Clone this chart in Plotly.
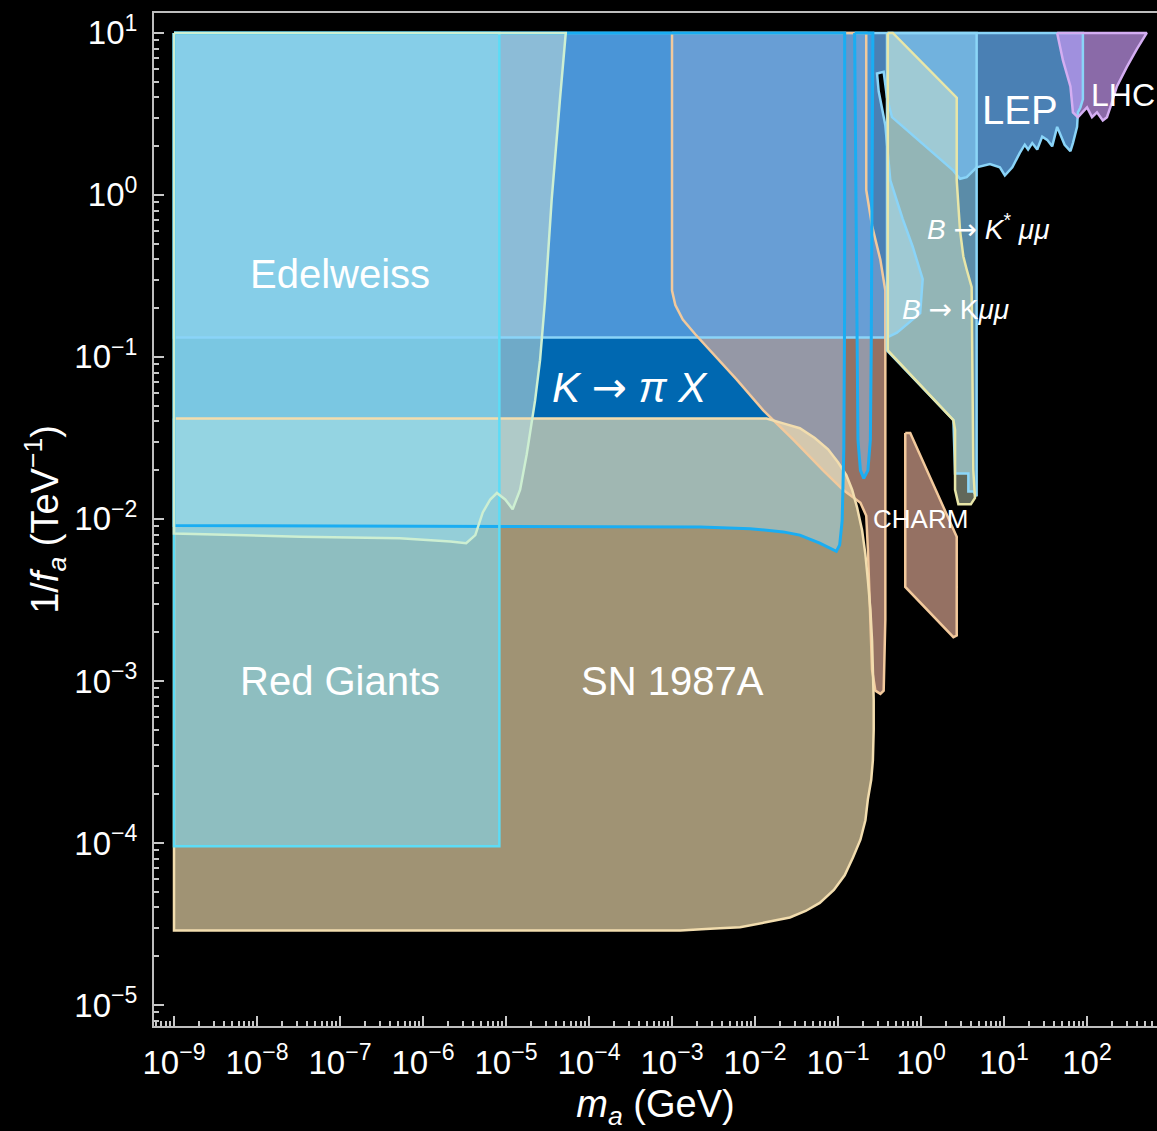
import plotly.graph_objects as go

# ALP exclusion regions in the (m_a, 1/f_a) plane.
# Boundaries are stored as log10(m_a / GeV) and log10(1/f_a / TeV^-1).

sn1987a_log_m = [-9.00, -2.06, -1.86, -1.66, -1.46, -1.28, -1.12, -1.00, -0.90, -0.83,
                 -0.77, -0.71, -0.67, -0.64, -0.61, -0.59, -0.58, -0.57, -0.57, -0.58,
                 -0.60, -0.64, -0.67, -0.73, -0.82, -0.92, -1.05, -1.22, -1.39, -1.58,
                 -1.87, -2.18, -2.54, -2.90, -9.00]
sn1987a_log_g = [-1.38, -1.38, -1.38, -1.41, -1.44, -1.50, -1.57, -1.65, -1.73, -1.82,
                 -1.93, -2.07, -2.22, -2.38, -2.56, -2.75, -2.93, -3.12, -3.30, -3.49,
                 -3.61, -3.73, -3.86, -3.98, -4.09, -4.20, -4.29, -4.37, -4.42, -4.46,
                 -4.49, -4.52, -4.53, -4.54, -4.54]

kpix_log_m = [-9.00, -0.92, -0.92, -0.93, -0.95, -0.98, -1.02, -1.10, -1.22, -1.46,
              -1.66, -2.06, -2.66, -9.00]
kpix_log_g = [1.00, 1.00, -0.65, -1.57, -2.01, -2.16, -2.20, -2.18, -2.15, -2.10,
              -2.08, -2.06, -2.05, -2.04]

kpix_high_log_m = [-0.80, -0.78, -0.77, -0.76, -0.73, -0.69, -0.64, -0.61, -0.60, -0.59, -0.58]
kpix_high_log_g = [1.00, -0.03, -0.96, -1.51, -1.70, -1.75, -1.70, -1.51, -0.96, -0.03, 1.00]

charm_log_m = [-3.00, -3.00, -2.96, -2.87, -2.72, -2.54, -2.22, -1.90, -1.54, -1.18,
               -0.94, -0.73, -0.66, -0.64, -0.61, -0.59, -0.55, -0.49, -0.45, -0.43,
               -0.43, -0.49, -0.59, -0.66, -0.66]
charm_log_g = [1.00, -0.59, -0.68, -0.77, -0.86, -0.96, -1.14, -1.33, -1.51, -1.70,
               -1.82, -1.90, -1.98, -2.19, -2.62, -2.93, -3.06, -3.08, -3.06, -2.62,
               -0.59, -0.40, -0.19, 0.03, 1.00]

charm_b_log_m = [-0.19, -0.13, 0.43, 0.43, 0.39, -0.19]
charm_b_log_g = [-1.47, -1.47, -2.11, -2.72, -2.73, -2.42]

edelweiss_log_m = [-9.00, -4.28, -4.35, -4.45, -4.53, -4.59, -4.65, -4.75, -4.83, -4.92,
                   -5.01, -5.11, -5.19, -5.28, -5.37, -5.48, -5.67, -6.28, -7.48, -9.00]
edelweiss_log_g = [1.00, 1.00, 0.59, -0.03, -0.65, -1.02, -1.27, -1.60, -1.82, -1.94,
                   -1.88, -1.84, -1.88, -1.96, -2.10, -2.15, -2.14, -2.12, -2.11, -2.09]

red_giants_log_m = [-9.00, -5.08, -5.08, -9.00]
red_giants_log_g = [1.00, 1.00, -4.02, -4.02]

lep_log_m = [-9.00, 1.95, 1.95, 1.92, 1.89, 1.88, 1.83, 1.80, 1.73, 1.67, 1.64, 1.58,
             1.52, 1.46, 1.40, 1.34, 1.29, 1.25, 1.19, 1.10, 1.01, 0.95, 0.83, 0.67,
             0.55, 0.47, 0.39, -0.35, -0.41, -0.45, -0.53, -0.51, -0.43, -0.37, -0.22,
             -0.10, 0.02, -0.01, -0.29, -0.41, -9.00]
lep_log_g = [1.00, 1.00, 0.59, 0.54, 0.51, 0.42, 0.32, 0.27, 0.31, 0.38, 0.42, 0.30,
             0.34, 0.36, 0.28, 0.32, 0.28, 0.31, 0.26, 0.17, 0.12, 0.17, 0.19, 0.17,
             0.11, 0.10, 0.15, 0.48, 0.60, 0.76, 0.75, 0.64, 0.43, 0.09, -0.15,
             -0.32, -0.52, -0.73, -0.85, -0.88, -0.88]

b_kmumu_log_m = [-0.41, 0.67, 0.67, 0.63, 0.57, 0.57, 0.41, 0.39, -0.41]
b_kmumu_log_g = [1.00, 1.00, -1.86, -1.83, -1.83, -1.72, -1.72, -1.39, -0.96]

b_kstar_log_m = [-0.40, -0.34, 0.43, 0.43, 0.47, 0.51, 0.55, 0.61, 0.63, 0.65, 0.60,
                 0.45, 0.41, 0.41, 0.39, -0.40]
b_kstar_log_g = [1.00, 1.00, 0.60, 0.09, -0.22, -0.38, -0.46, -0.57, -1.70, -1.87,
                 -1.91, -1.91, -1.82, -1.45, -1.39, -0.96]

lhc_log_m = [1.64, 1.71, 1.80, 1.83, 1.89, 1.94, 2.00, 2.06, 2.12, 2.19, 2.24, 2.28,
             2.36, 2.48, 2.60, 2.72]
lhc_log_g = [1.00, 0.83, 0.67, 0.51, 0.48, 0.51, 0.54, 0.48, 0.51, 0.46, 0.48, 0.54,
             0.67, 0.79, 0.90, 1.00]

x_tick_exponents = list(range(-9, 3))
y_tick_exponents = list(range(-5, 2))


def closed(log_m, log_g):
    xs = [10 ** v for v in log_m]
    ys = [10 ** v for v in log_g]
    return xs + xs[:1], ys + ys[:1]


regions = {
    "kpix": (kpix_log_m, kpix_log_g),
    "kpix_high": (kpix_high_log_m, kpix_high_log_g),
    "charm": (charm_log_m, charm_log_g),
    "charm_b": (charm_b_log_m, charm_b_log_g),
    "sn": (sn1987a_log_m, sn1987a_log_g),
    "lep": (lep_log_m, lep_log_g),
    "edelweiss": (edelweiss_log_m, edelweiss_log_g),
    "rg": (red_giants_log_m, red_giants_log_g),
    "bk": (b_kmumu_log_m, b_kmumu_log_g),
    "bkstar": (b_kstar_log_m, b_kstar_log_g),
    "lhc": (lhc_log_m, lhc_log_g),
}

fill_style = {
    "kpix": "rgba(0,112,190,0.93)",
    "kpix_high": "rgba(0,112,190,0.93)",
    "charm": "rgba(240,182,160,0.62)",
    "charm_b": "rgba(240,182,160,0.62)",
    "sn": "rgba(246,226,178,0.65)",
    "lep": "rgba(92,160,225,0.80)",
    "edelweiss": "rgba(185,215,215,0.60)",
    "rg": "rgba(130,219,244,0.60)",
    "bk": "rgba(130,200,240,0.70)",
    "bkstar": "rgba(215,230,200,0.45)",
    "lhc": "rgba(197,151,240,0.70)",
}
fill_order = ["kpix", "kpix_high", "charm", "charm_b", "sn", "lep", "edelweiss", "rg",
              "bk", "bkstar", "lhc"]

line_style = {
    "lep": ("#8AD4F8", 2.5),
    "charm": ("#F2C99C", 2.5),
    "charm_b": ("#F2C99C", 2.5),
    "sn": ("#F2DDAE", 2.5),
    "kpix": ("#1AADF2", 3),
    "kpix_high": ("#1AADF2", 3),
    "rg": ("#5CDCF6", 2.5),
    "edelweiss": ("#CDEFD2", 2.5),
    "bk": ("#8CD6F8", 2.5),
    "bkstar": ("#E8E6A8", 2.5),
    "lhc": ("#D4AEF2", 2.5),
}
line_order = ["lep", "charm", "charm_b", "sn", "kpix", "kpix_high", "rg", "edelweiss",
              "bk", "bkstar", "lhc"]

fig = go.Figure()

# translucent fills first, outlines on top so every contour stays visible
for key in fill_order:
    xs, ys = closed(*regions[key])
    fig.add_trace(go.Scatter(x=xs, y=ys, mode="lines", fill="toself",
                             fillcolor=fill_style[key], line=dict(width=0),
                             hoverinfo="skip", showlegend=False))

for key in line_order:
    xs, ys = closed(*regions[key])
    color, width = line_style[key]
    fig.add_trace(go.Scatter(x=xs, y=ys, mode="lines",
                             line=dict(color=color, width=width, shape="linear"),
                             hoverinfo="skip", showlegend=False))


def power_label(e):
    return "10<sup>" + ("\u2212" if e < 0 else "") + str(abs(e)) + "</sup>"


def minor_vals(lo, hi):
    return [k * 10.0 ** e for e in range(lo, hi) for k in range(2, 10)]


font_family = "Liberation Sans, Arial, sans-serif"
ARROW = '<span style="font-family:DejaVu Sans">\u2192</span>'

axis_common = dict(
    type="log", showgrid=False, zeroline=False, showline=True,
    linecolor="#BEBEBE", linewidth=2,
    ticks="inside", ticklen=10, tickwidth=2, tickcolor="#C8C8C8",
    tickfont=dict(family=font_family, size=33, color="white"),
)

fig.update_xaxes(
    **axis_common,
    range=[-9.241, 2.843], mirror=True,
    tickmode="array",
    tickvals=[10.0 ** e for e in x_tick_exponents],
    ticktext=[power_label(e) for e in x_tick_exponents],
    ticklabelstandoff=6,
    minor=dict(tickmode="array", tickvals=minor_vals(-10, 3), ticks="inside",
               ticklen=5, tickwidth=1.5, tickcolor="#C8C8C8", showgrid=False),
    title=dict(text="<i>m</i><sub><i>a</i></sub> (GeV)",
               font=dict(family=font_family, size=38, color="white"), standoff=24),
)
fig.update_yaxes(
    **axis_common,
    range=[-5.130, 1.123],
    tickmode="array",
    tickvals=[10.0 ** e for e in y_tick_exponents],
    ticktext=[power_label(e) for e in y_tick_exponents],
    ticklabelstandoff=8,
    minor=dict(tickmode="array", tickvals=minor_vals(-6, 2), ticks="inside",
               ticklen=5, tickwidth=1.5, tickcolor="#C8C8C8", showgrid=False),
    title=dict(text="1/<i>f</i><sub><i>a</i></sub> (TeV<sup>\u22121</sup>)",
               font=dict(family=font_family, size=38, color="white"), standoff=4),
)

labels = [
    ("Edelweiss", -7.00, -0.49, 40),
    ("Red Giants", -7.00, -3.00, 40),
    ("SN 1987A", -2.99, -3.00, 40),
    ("<i>K</i> " + ARROW + " <i>\u03c0 X</i>", -3.51, -1.19, 42),
    ("LEP", 1.19, 0.525, 40),
    ("LHC", 2.43, 0.617, 32),
    ("<i>B</i> " + ARROW + " <i>K</i><sup>*</sup> <i>\u03bc\u03bc</i>", 0.81, -0.20, 28),
    ("<i>B</i> " + ARROW + " K<i>\u03bc\u03bc</i>", 0.41, -0.71, 28),
    ("CHARM", -0.01, -2.00, 26),
]
for text, lx, ly, size in labels:
    fig.add_annotation(x=lx, y=ly, xref="x", yref="y", text=text, showarrow=False,
                       font=dict(family=font_family, size=size, color="white"),
                       xanchor="center", yanchor="middle")

fig.update_layout(
    width=1157, height=1131,
    margin=dict(l=154, r=0, t=13, b=105),
    paper_bgcolor="black", plot_bgcolor="black",
    showlegend=False, hovermode=False,
)

fig.write_html("out.html")
